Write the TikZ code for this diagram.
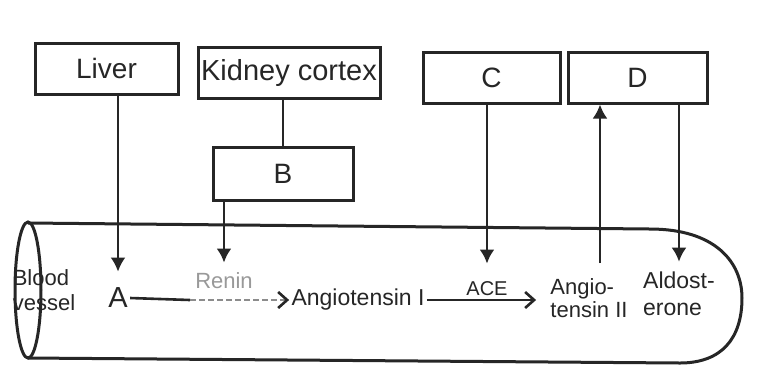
\documentclass[tikz,border=0pt]{standalone}
\usepackage{fontspec}
\setmainfont{Liberation Sans}
\usetikzlibrary{arrows.meta}
\begin{document}
\begin{tikzpicture}[x=0.5pt,y=-0.5pt, color=black!85,
  box/.style={draw, line width=1.5pt, inner sep=0pt, font=\fontsize{14}{16}\selectfont},
  lbl/.style={inner sep=1pt, align=left},
  varrow/.style={-{Latex[length=7pt,width=7.5pt]}, line width=1.3pt},
  harrow/.style={-{Straight Barb[length=4.5pt,width=8pt,line width=1.3pt]}, line width=1.2pt}]
\useasboundingbox[fill=white] (0,0) rectangle (757,372);
% vessel
\draw[line width=1.5pt] (28,223) -- (650,229) .. controls (715,229) and (742,262) .. (742,298)
  .. controls (742,338) and (722,363) .. (680,363) -- (28,358);
\draw[line width=1.5pt] (28,290) ellipse [x radius=6.5pt, y radius=34pt];
% boxes
\node[box, minimum width=71.5pt, minimum height=25.5pt] (liver) at (106.5,68.5) {Liver};
\node[box, minimum width=91pt, minimum height=25.5pt, font=\fontsize{14.5}{16}\selectfont] (kidney) at (289,72.5) {Kidney cortex};
\node[box, minimum width=70pt, minimum height=26.5pt] (B) at (283,173.5) {B};
\node[box, minimum width=68.5pt, minimum height=25.5pt] (C) at (491.5,77.5) {C};
\node[box, minimum width=69.5pt, minimum height=25.5pt] (D) at (637.5,77.5) {D};
% labels
\node[lbl, font=\fontsize{14.5}{16}\selectfont] (A) at (118,298) {A};
\node[lbl, font=\fontsize{11}{13}\selectfont, text=black!40] (renin) at (224,281) {Renin};
\node[lbl, font=\fontsize{11.5}{13}\selectfont] (angI) at (358,300) {Angiotensin I};
\node[lbl, font=\fontsize{10}{12}\selectfont] (ace) at (487,289) {ACE};
\node[lbl, font=\fontsize{11}{11.5}\selectfont] (angII) at (589,298) {Angio-\\tensin II};
\node[lbl, font=\fontsize{11.5}{13.5}\selectfont] (ald) at (679,294) {Aldost-\\erone};
\node[lbl, font=\fontsize{11}{12.5}\selectfont] (blood) at (44,290) {Blood\\vessel};
% connectors
\draw[varrow, shorten >=7pt] (liver.south -| A) -- (A.north);
\draw[line width=1.3pt] (kidney.south -| B) -- (B.north);
\draw[varrow, shorten >=4pt] (B.south -| renin.north) -- (renin.north);
\coordinate (mid) at (190,300);
\draw[line width=1.3pt] (A.east) -- (mid);
\draw[line width=0.6pt, draw=black!45, dashed, dash pattern=on 3pt off 1.5pt,
  -{Straight Barb[length=4.5pt,width=8pt,line width=1.3pt,color=black!85]}] (mid) -- (angI.west);
\draw[varrow, shorten >=8pt] (C.south -| ace) -- (ace.north);
\draw[harrow, shorten >=6pt] (angI.east) -- (angI.east -| angII.west);
\coordinate (up) at (600,263);
\draw[varrow] (up) -- (up |- D.south);
\draw[varrow, shorten >=4pt] (D.south -| ald) -- (ald.north);
\end{tikzpicture}
\end{document}
